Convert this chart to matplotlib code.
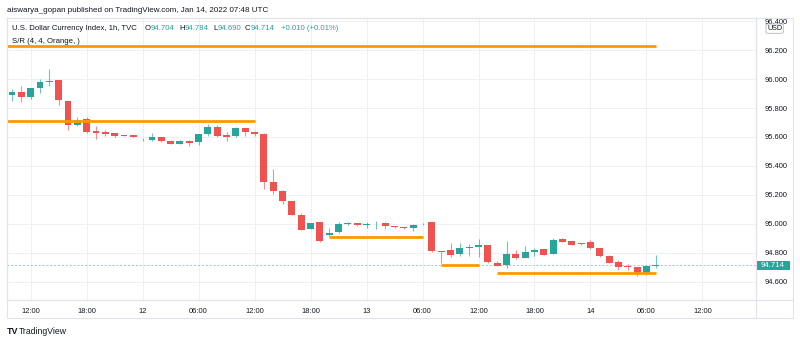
import numpy as np
import matplotlib
matplotlib.use('Agg')
import matplotlib.pyplot as plt
from matplotlib.patches import Rectangle, FancyBboxPatch
from matplotlib.lines import Line2D


plt.rcParams['font.family'] = ['Liberation Sans', 'DejaVu Sans']


# hourly candles, first one is Jan 11 10:00 UTC
start_hour = 10

opens = [95.89, 95.91, 95.88, 95.94, 95.983, 95.992, 95.851, 95.680, 95.727, 95.639,
         95.632, 95.628, 95.607, 95.611, 95.586, 95.579, 95.597, 95.574, 95.554, 95.574,
         95.565, 95.623, 95.671, 95.616, 95.609, 95.662, 95.635, 95.623, 95.289, 95.228,
         95.159, 95.062, 94.963, 95.009, 94.919, 94.940, 94.998, 95.005, 94.991, 95.002,
         95.007, 94.984, 94.977, 94.972, 94.996, 95.009, 94.810, 94.815, 94.790, 94.832,
         94.839, 94.853, 94.730, 94.711, 94.790, 94.763, 94.806, 94.825, 94.792, 94.894,
         94.878, 94.861, 94.871, 94.832, 94.774, 94.732, 94.701, 94.698, 94.651, 94.704]

highs = [95.93, 95.95, 95.94, 96.00, 96.071, 95.995, 95.851, 95.740, 95.740, 95.673,
         95.651, 95.630, 95.612, 95.612, 95.595, 95.625, 95.598, 95.576, 95.576, 95.576,
         95.623, 95.690, 95.685, 95.635, 95.666, 95.665, 95.639, 95.625, 95.381, 95.230,
         95.160, 95.071, 95.007, 95.012, 94.970, 95.012, 95.012, 95.006, 95.009, 95.019,
         95.009, 94.986, 94.978, 94.995, 95.007, 95.010, 94.813, 94.864, 94.864, 94.862,
         94.894, 94.856, 94.744, 94.878, 94.820, 94.848, 94.832, 94.827, 94.903, 94.901,
         94.880, 94.863, 94.887, 94.834, 94.783, 94.746, 94.721, 94.700, 94.707, 94.784]

lows = [95.85, 95.84, 95.86, 95.905, 95.955, 95.824, 95.646, 95.675, 95.630, 95.586,
        95.609, 95.600, 95.604, 95.597, 95.572, 95.574, 95.563, 95.552, 95.552, 95.535,
        95.542, 95.604, 95.597, 95.570, 95.600, 95.609, 95.609, 95.242, 95.208, 95.136,
        95.058, 94.954, 94.960, 94.876, 94.917, 94.933, 94.988, 94.987, 94.972, 94.963,
        94.963, 94.972, 94.960, 94.952, 94.991, 94.806, 94.728, 94.770, 94.776, 94.776,
        94.767, 94.730, 94.707, 94.693, 94.758, 94.760, 94.774, 94.782, 94.790, 94.870,
        94.852, 94.855, 94.827, 94.772, 94.726, 94.682, 94.682, 94.635, 94.645, 94.690]

closes = [95.91, 95.88, 95.94, 95.983, 95.988, 95.853, 95.680, 95.720, 95.632, 95.625,
          95.623, 95.607, 95.610, 95.600, 95.583, 95.597, 95.570, 95.554, 95.574, 95.561,
          95.621, 95.671, 95.609, 95.602, 95.660, 95.632, 95.621, 95.286, 95.228, 95.154,
          95.060, 94.956, 95.002, 94.878, 94.938, 94.998, 95.002, 94.988, 95.000, 95.006,
          94.981, 94.974, 94.967, 94.993, 94.998, 94.808, 94.806, 94.783, 94.832, 94.834,
          94.853, 94.732, 94.709, 94.790, 94.760, 94.802, 94.820, 94.785, 94.889, 94.875,
          94.855, 94.858, 94.829, 94.774, 94.728, 94.700, 94.699, 94.652, 94.704, 94.714]

# S/R indicator segments (hour from, hour to, level)
sr_from = [9, 9, 44, 56, 62]
sr_to = [79, 36, 54, 60, 79]
sr_level = [96.230, 95.713, 94.908, 94.714, 94.662]

# time axis, hours since Jan 11 00:00
tick_hours = [12, 18, 24, 30, 36, 42, 48, 54, 60, 66, 72, 78, 84]
tick_labels = ['12:00', '18:00', '12', '06:00', '12:00', '18:00', '13',
               '06:00', '12:00', '18:00', '14', '06:00', '12:00']
price_ticks = [94.6, 94.8, 95.0, 95.2, 95.4, 95.6, 95.8, 96.0, 96.2, 96.4]


opens = np.array(opens)
highs = np.array(highs)
lows = np.array(lows)
closes = np.array(closes)
hours = start_hour + np.arange(len(opens))

green = '#26a69a'
red = '#ef5350'
orange = '#ff9800'
txt = '#131722'
frame = '#e0e3eb'

W, H = 800, 343

fig = plt.figure(figsize=(W / 100, H / 100), dpi=100)
fig.patch.set_facecolor('white')

# plot area in pixels: x 7..756, y 18..300
ax = fig.add_axes([7 / W, 1 - 300 / H, 749 / W, 282 / H])
ax.set_xlim(9.464, 89.74)
ax.set_ylim(94.472, 96.4235)

ax.grid(True, color='#eef0f4', lw=0.7)
ax.set_axisbelow(True)

cols = np.where(closes >= opens, green, red)

# wicks then bodies
ax.vlines(hours, lows, highs, colors=cols, lw=0.8, alpha=0.65, zorder=2)
body = np.maximum(np.abs(closes - opens), 0.005)
bottom = np.minimum(opens, closes)
ax.bar(hours, body, bottom=bottom, width=0.74, color=cols, zorder=3, lw=0)

# S/R lines
for a, b, lvl in zip(sr_from, sr_to, sr_level):
    ax.plot([a, b], [lvl, lvl], color=orange, lw=2.0, solid_capstyle='butt', zorder=4)

# last price line
last = closes[-1]
ax.axhline(last, color=green, lw=0.7, ls=(0, (2, 2)), alpha=0.5, zorder=1)

ax.set_xticks(tick_hours)
ax.set_xticklabels(tick_labels)
ax.set_yticks(price_ticks)
ax.set_yticklabels(['%.3f' % p for p in price_ticks])
ax.yaxis.tick_right()
ax.tick_params(axis='both', length=0, labelsize=5.4, labelcolor=txt)
ax.tick_params(axis='x', pad=6)
ax.tick_params(axis='y', pad=6.5)

for s in ax.spines.values():
    s.set_color(frame)
    s.set_linewidth(0.8)


def px(x, y):
    return x / W, 1 - y / H


def ptxt(x, y, s, **kw):
    kw.setdefault('va', 'center')
    kw.setdefault('fontsize', 5.6)
    kw.setdefault('color', txt)
    fig.text(*px(x, y), s, **kw)


# outer frame of the chart widget
for (x0, y0, x1, y1) in [(7, 18, 793, 18), (7, 318, 793, 318), (7, 300, 793, 300),
                         (7, 18, 7, 318), (793, 18, 793, 318), (756, 18, 756, 318)]:
    fig.add_artist(Line2D([x0 / W, x1 / W], [1 - y0 / H, 1 - y1 / H],
                          color=frame, lw=0.8, transform=fig.transFigure))

# header
ptxt(7, 10, 'aiswarya_gopan published on TradingView.com, Jan 14, 2022 07:48 UTC', fontsize=5.75)

# legend
chg = closes[-1] - closes[-2]
pct = chg / closes[-2] * 100
ptxt(12, 29, 'U.S. Dollar Currency Index, 1h, TVC')
for lx, letter, val in [(151, 'O', opens[-1]), (185, 'H', highs[-1]),
                        (218, 'L', lows[-1]), (251, 'C', closes[-1])]:
    ptxt(lx - 0.5, 29, letter, ha='right')
    ptxt(lx, 29, '%.3f' % val, color=green)
ptxt(281, 29, '%+.3f (%+.2f%%)' % (chg, pct), color=green)
ptxt(12, 41.5, 'S/R (4, 4, Orange, )')

# currency badge
fig.add_artist(FancyBboxPatch(px(766, 33.3), 17.3 / W, 9.3 / H,
                              boxstyle='round,pad=0,rounding_size=0.003',
                              fc='white', ec='#b2b5be', lw=0.6, transform=fig.transFigure))
ptxt(774.7, 28.7, 'USD', ha='center', fontsize=5.2)

# last price tag
fig.add_artist(Rectangle(px(756, 270.3), 34 / W, 9.6 / H, fc=green, ec='none',
                         transform=fig.transFigure))
ptxt(773, 265.5, '%.3f' % last, ha='center', color='white', fontsize=5.6)

# logo
ptxt(7, 332, 'TV', fontsize=6.5, fontweight='bold')
ptxt(19, 332, 'TradingView', fontsize=6.2)

fig.savefig('out.png', dpi=100)
